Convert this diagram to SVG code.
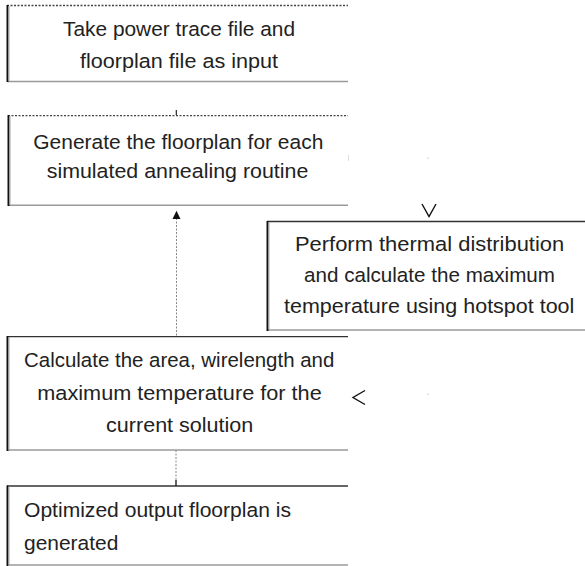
<svg xmlns="http://www.w3.org/2000/svg" width="585" height="566" viewBox="0 0 585 566">
<style>
.t{font-family:"Liberation Sans",Arial,sans-serif;font-size:20.5px;fill:#222}
.m{text-anchor:middle}
.dt{stroke:#444;stroke-width:1.3;stroke-dasharray:2 1.5;fill:none}
.lt{stroke:#9a9a9a;stroke-width:1.5;fill:none}
.dk{stroke:#333;stroke-width:1.3;fill:none}
.lb{stroke:#111;stroke-width:2;fill:none}
.sh{stroke:#aaa;stroke-width:1;fill:none}
.cn{stroke:#888;stroke-width:1;stroke-dasharray:2 1.5;fill:none}
.ch{stroke:#111;stroke-width:1.4;fill:none}
</style>
<rect width="585" height="566" fill="#fff"/>
<g id="node1">
<line class="dt" x1="7" y1="5.5" x2="348" y2="5.5"/>
<line class="lt" x1="7" y1="81.5" x2="348" y2="81.5"/>
<line class="lb" x1="7.5" y1="5" x2="7.5" y2="82"/>
<line class="sh" x1="9" y1="6" x2="9" y2="81"/>
<text class="t m" x="179" y="36" textLength="232" lengthAdjust="spacingAndGlyphs">Take power trace file and</text>
<text class="t m" x="179" y="68" textLength="198" lengthAdjust="spacingAndGlyphs">floorplan file as input</text>
</g>
<g id="node2">
<line class="dt" x1="8" y1="115.7" x2="348" y2="115.7"/>
<line class="lt" x1="8" y1="205.2" x2="348" y2="205.2"/>
<line class="lb" x1="8.5" y1="115" x2="8.5" y2="206"/>
<line class="sh" x1="10" y1="116" x2="10" y2="205"/>
<text class="t m" x="178.3" y="148.5" textLength="290" lengthAdjust="spacingAndGlyphs">Generate the floorplan for each</text>
<text class="t m" x="177.5" y="178" textLength="261.6" lengthAdjust="spacingAndGlyphs">simulated annealing routine</text>
</g>
<g id="node3">
<line class="dk" x1="267" y1="221.5" x2="585" y2="221.5"/>
<line class="lt" x1="267" y1="330" x2="585" y2="330"/>
<line class="lb" x1="267.5" y1="221" x2="267.5" y2="331"/>
<line class="sh" x1="269" y1="222" x2="269" y2="329"/>
<text class="t m" x="429.6" y="250.7" textLength="269.3" lengthAdjust="spacingAndGlyphs">Perform thermal distribution</text>
<text class="t m" x="429.5" y="281.7" textLength="251" lengthAdjust="spacingAndGlyphs">and calculate the maximum</text>
<text class="t m" x="429.2" y="312.7" textLength="290.3" lengthAdjust="spacingAndGlyphs">temperature using hotspot tool</text>
</g>
<g id="node4">
<line class="dk" x1="7" y1="336.7" x2="348" y2="336.7"/>
<line class="lt" x1="7" y1="450" x2="348" y2="450"/>
<line class="lb" x1="7.5" y1="336" x2="7.5" y2="451"/>
<line class="sh" x1="9" y1="337" x2="9" y2="450"/>
<text class="t m" x="179.2" y="366.7" textLength="310.3" lengthAdjust="spacingAndGlyphs">Calculate the area, wirelength and</text>
<text class="t m" x="179.5" y="400" textLength="284.4" lengthAdjust="spacingAndGlyphs">maximum temperature for the</text>
<text class="t m" x="179.7" y="431.7" textLength="147.3" lengthAdjust="spacingAndGlyphs">current solution</text>
</g>
<g id="node5">
<line class="dk" x1="7" y1="486" x2="348" y2="486"/>
<line class="lt" x1="7" y1="565" x2="348" y2="565"/>
<line class="lb" x1="7.5" y1="485.5" x2="7.5" y2="566"/>
<line class="sh" x1="9" y1="486.5" x2="9" y2="566"/>
<text class="t" x="24" y="516.7" textLength="267" lengthAdjust="spacingAndGlyphs">Optimized output floorplan is</text>
<text class="t" x="24" y="550" textLength="94.3" lengthAdjust="spacingAndGlyphs">generated</text>
</g>
<g id="connectors">
<line x1="176.3" y1="110" x2="176.3" y2="115" stroke="#222" stroke-width="1.2"/>
<line class="cn" x1="176.5" y1="218" x2="176.5" y2="336"/>
<polygon points="176.5,210.7 172.5,219 180.5,219" fill="#111"/>
<line class="cn" x1="176" y1="450" x2="176" y2="482"/>
<line x1="176" y1="480" x2="176" y2="486" stroke="#222" stroke-width="1.4"/>
<polyline class="ch" points="422,204 429,216.5 436,204"/>
<polyline class="ch" points="365,390.5 353,397.5 365,404.5"/>
<circle cx="428" cy="158" r="0.6" fill="#999"/>
<circle cx="428" cy="394" r="0.6" fill="#999"/>
<line x1="348.5" y1="155" x2="348.5" y2="161" stroke="#ddd" stroke-width="1"/>
</g>
</svg>
